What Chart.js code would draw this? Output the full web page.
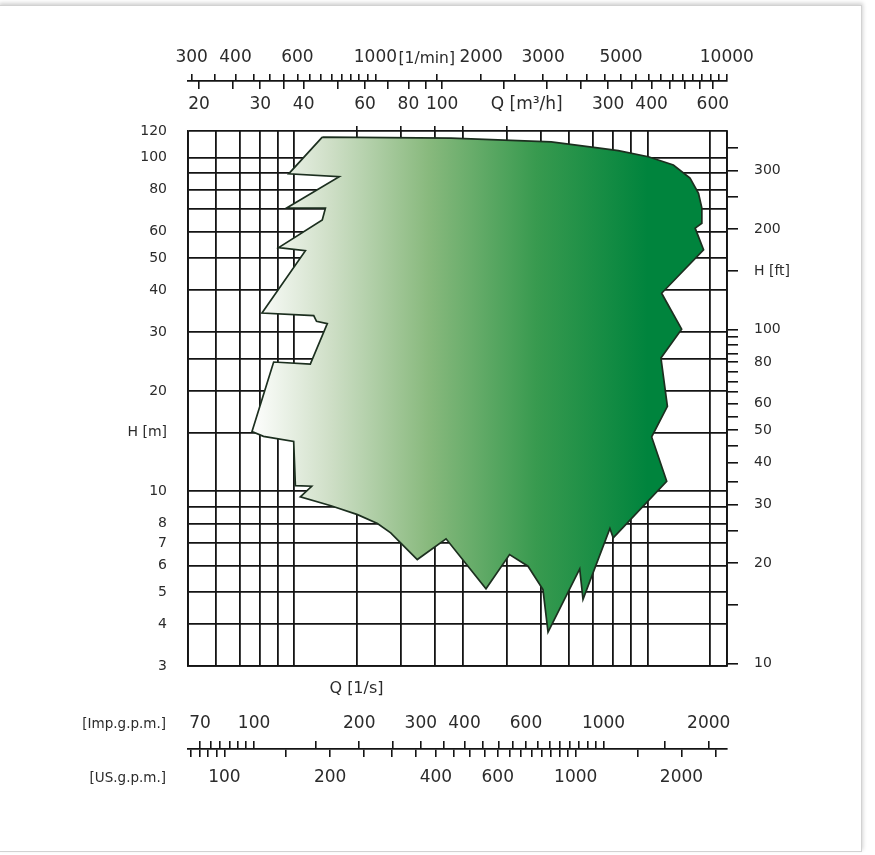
<!DOCTYPE html>
<html lang="en">
<head>
<meta charset="UTF-8">
<title>Pump range chart</title>
<script src="https://cdn.jsdelivr.net/npm/chart.js"></script>
<style>
  body { margin: 0; background: #fff; }
  .moldura { position: absolute; left: -2px; top: 5px; width: 862px; height: 845px;
    border: 1px solid #d2d2d2; box-shadow: 1px -2px 4px rgba(0, 0, 0, 0.18); background: #fff; }
  .folha { position: absolute; left: 0; top: 0; width: 875px; height: 855px; }
</style>
</head>
<body>
<div class="moldura"></div>
<div class="folha"><canvas id="grafico" width="875" height="855"></canvas></div>
<script>
// outline of the covered range, Q in l/s, H in m
const campoQ = [12.0, 27.8, 53.4, 74.1, 82.7, 100.6, 118.4, 132, 139.5, 142.6, 142.6, 136.5, 144.2,
  109.7, 125, 109.2, 113.9, 102.8, 113.4, 80.0, 78.3, 65.7, 64.3, 52.3, 50.6, 45.9, 40.7, 34.9,
  26.9, 22.3, 20.0, 18.75, 17.2, 15.1, 12.7, 10.4, 11.2, 10.07, 9.96, 8.18, 7.59, 8.74, 11.1,
  12.4, 11.56, 11.35, 8.10, 10.75, 9.03, 12.0, 12.25, 9.54, 13.4, 9.64, 12.0];
const campoH = [115, 114.3, 111.3, 106.5, 104.8, 100.5, 94.9, 86.7, 78.1, 70.5, 63.5, 61.4, 52.9,
  39.2, 30.6, 25.1, 17.96, 14.56, 10.72, 7.26, 7.74, 4.75, 5.86, 3.79, 5.08, 5.97, 6.47, 5.11,
  7.21, 6.25, 7.01, 7.51, 8.01, 8.52, 9.06, 9.63, 10.36, 10.41, 14.12, 14.62, 15.12, 24.4, 24.06,
  31.8, 32.3, 33.6, 34.2, 52.6, 53.7, 65.0, 70.5, 70.7, 87.6, 89.3, 115];

// main grid
const gradeQ = [5, 6, 7, 8, 9, 10, 15, 20, 25, 30, 40, 50, 60, 70, 80, 90, 100, 150, 168];
const gradeH = [3, 4, 5, 6, 7, 8, 9, 10, 15, 20, 25, 30, 40, 50, 60, 70, 80, 90, 100, 120];
const rotulosH = [3, 4, 5, 6, 7, 8, 10, 20, 30, 40, 50, 60, 80, 100, 120];
const marcasTopoQ = [15, 20, 25, 30, 40];

// H in feet
const marcasFt = [10, 15, 20, 25, 30, 35, 40, 45, 50, 55, 60, 65, 70, 75, 80, 85, 90, 95, 100, 150, 200, 250, 300, 350];
const rotulosFt = [10, 20, 30, 40, 50, 60, 80, 100, 200, 300];

// Q in m3/h and l/min (top)
const marcasM3h = [20, 25, 30, 35, 40, 50, 60, 70, 80, 90, 100, 150, 200, 250, 300, 350, 400, 450, 500, 550, 600];
const rotulosM3h = [20, 30, 40, 60, 80, 100, 300, 400, 600];
const marcasLmin = [300, 350, 400, 450, 500, 550, 600, 650, 700, 750, 800, 850, 900, 950, 1000,
  1500, 2000, 2500, 3000, 3500, 4000, 4500, 5000, 5500, 6000, 6500, 7000, 7500, 8000, 8500, 9000, 9500, 10000];
const rotulosLmin = [300, 400, 600, 1000, 2000, 3000, 5000, 10000];

// Q in gallons per minute (bottom)
const marcasImp = [70, 75, 80, 85, 90, 95, 100, 150, 200, 250, 300, 350, 400, 450, 500, 550, 600, 650,
  700, 750, 800, 850, 900, 950, 1000, 1500, 2000];
const rotulosImp = [70, 100, 200, 300, 400, 600, 1000, 2000];
const marcasUs = [80, 85, 90, 95, 100, 150, 200, 250, 300, 350, 400, 450, 500, 550, 600, 650, 700, 750,
  800, 850, 900, 950, 1000, 1500, 2000, 2500];
const rotulosUs = [100, 200, 400, 600, 1000, 2000];

const FONTE = "'DejaVu Sans', sans-serif";
const PRETO = '#141414';
const TEXTO = '#2b2b2b';

Chart.defaults.font.family = FONTE;
Chart.defaults.color = TEXTO;

function fixar(valores) {
  return s => { s.ticks = valores.map(v => ({ value: v })); };
}
function rotular(lista, nome, valorNome) {
  return v => (v === valorNome ? nome : (lista.includes(v) ? String(v) : ''));
}
function altura(h) { return s => { s.height = h; }; }
function largura(w) { return s => { s.width = w; }; }

// axis carrying only labels
function eixoRotulos(pos, min, max, valores, cb, tam, pad, h, peso) {
  return {
    type: 'logarithmic', position: pos, min: min, max: max, weight: peso,
    grid: { display: false, drawTicks: false }, border: { display: false },
    ticks: { autoSkip: false, maxRotation: 0, padding: pad, font: { size: tam }, callback: cb },
    afterBuildTicks: fixar(valores), afterFit: altura(h)
  };
}
// axis carrying only tick marks
function eixoMarcas(pos, min, max, valores, comp, linha, peso) {
  return {
    type: 'logarithmic', position: pos, min: min, max: max, weight: peso,
    grid: { display: true, drawOnChartArea: false, drawTicks: true, tickLength: comp, color: PRETO, lineWidth: 1.6 },
    border: { display: linha, color: PRETO, width: 1.8 },
    ticks: { display: false },
    afterBuildTicks: fixar(valores), afterFit: altura(comp)
  };
}

const nomesLaterais = {
  id: 'nomesLaterais',
  afterDraw(chart) {
    const c = chart.ctx;
    const imp = chart.scales.impRot, us = chart.scales.us;
    c.save();
    c.font = '13.5px ' + FONTE;
    c.fillStyle = TEXTO;
    c.textAlign = 'right';
    c.textBaseline = 'middle';
    const xr = chart.chartArea.left - 22;
    c.fillText('[Imp.g.p.m.]', xr, imp.top + imp.options.ticks.padding + 10.2);
    c.fillText('[US.g.p.m.]', xr, us.top + 8 + us.options.ticks.padding + 10.2);
    c.restore();
  }
};

const eixoLmin = eixoRotulos('top', 293, 10010, rotulosLmin.concat([1400]),
  rotular(rotulosLmin, '[1/min]', 1400), 17, 5.8, 44, 5);
eixoLmin.ticks.font = c => ({ size: c.tick && c.tick.value === 1400 ? 15.5 : 17 });

new Chart(document.getElementById('grafico'), {
  type: 'line',
  data: {
    datasets: [{
      data: campoQ.map((q, i) => ({ x: q, y: campoH[i] })),
      fill: 'shape',
      tension: 0,
      pointRadius: 0,
      borderColor: '#1c2f1f',
      borderWidth: 1.7,
      backgroundColor: c => {
        const ch = c.chart;
        if (!ch.chartArea) return 'rgba(0,0,0,0)';
        const sx = ch.scales.x;
        const g = ch.ctx.createLinearGradient(sx.getPixelForValue(7.5), 0, sx.getPixelForValue(100), 0);
        g.addColorStop(0, '#ffffff');
        g.addColorStop(0.2, '#cfdfc7');
        g.addColorStop(0.45, '#88b97d');
        g.addColorStop(0.72, '#389a4f');
        g.addColorStop(1, '#00843d');
        return g;
      }
    }]
  },
  options: {
    responsive: false,
    animation: false,
    layout: { padding: { top: 30, bottom: 56, left: 0, right: 0 } },
    plugins: { legend: { display: false }, tooltip: { enabled: false } },
    scales: {
      x: {
        type: 'logarithmic', position: 'bottom', min: 5, max: 168, weight: 1,
        grid: { color: PRETO, lineWidth: 1.8, drawTicks: false },
        border: { color: PRETO, width: 1.8 },
        ticks: { autoSkip: false, maxRotation: 0, padding: 13, font: { size: 16 },
          callback: v => (v === 15 ? 'Q [1/s]' : '') },
        afterBuildTicks: fixar(gradeQ), afterFit: altura(34)
      },
      y: {
        type: 'logarithmic', position: 'left', min: 3, max: 120,
        grid: { color: PRETO, lineWidth: 1.8, drawTicks: false },
        border: { color: PRETO, width: 1.8 },
        ticks: { autoSkip: false, padding: 21, font: { size: 14 }, callback: rotular(rotulosH, 'H [m]', 15) },
        afterBuildTicks: fixar(gradeH), afterFit: largura(188)
      },
      ft: {
        type: 'logarithmic', position: 'right', min: 3 * 3.2808, max: 120 * 3.2808,
        grid: { display: true, drawOnChartArea: false, drawTicks: true, tickLength: 11, color: PRETO, lineWidth: 1.6 },
        border: { color: PRETO, width: 1.8 },
        ticks: { autoSkip: false, padding: 16, font: { size: 14 }, callback: rotular(rotulosFt, 'H [ft]', 150) },
        afterBuildTicks: fixar(marcasFt), afterFit: largura(148)
      },
      topoQ: eixoMarcas('top', 5, 168, marcasTopoQ, 5, false, 1),
      m3hRot: eixoRotulos('top', 18.6, 659, rotulosM3h.concat([175]), rotular(rotulosM3h, 'Q [m³/h]', 175), 17, 10.8, 37, 2),
      m3h: eixoMarcas('top', 18.6, 659, marcasM3h, 8, false, 3),
      lmin: eixoMarcas('top', 293, 10010, marcasLmin, 7, true, 4),
      lminRot: eixoLmin,
      impRot: eixoRotulos('bottom', 64.7, 2256, rotulosImp, rotular(rotulosImp), 17, 13.8, 41, 2),
      imp: eixoMarcas('bottom', 64.7, 2256, marcasImp, 8, false, 3),
      us: {
        type: 'logarithmic', position: 'bottom', min: 78.8, max: 2695, weight: 4,
        grid: { display: true, drawOnChartArea: false, drawTicks: true, tickLength: 8, color: PRETO, lineWidth: 1.6 },
        border: { display: true, color: PRETO, width: 1.8 },
        ticks: { autoSkip: false, maxRotation: 0, padding: 10.8, font: { size: 17 }, callback: rotular(rotulosUs) },
        afterBuildTicks: fixar(marcasUs), afterFit: altura(50)
      }
    }
  },
  plugins: [nomesLaterais]
});
</script>
</body>
</html>
